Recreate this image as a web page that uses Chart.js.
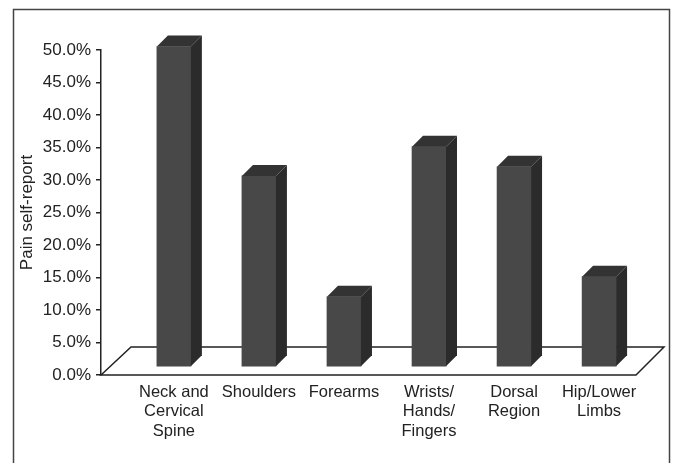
<!DOCTYPE html>
<html>
<head>
<meta charset="utf-8">
<script src="https://cdn.jsdelivr.net/npm/chart.js@4"></script>
<style>
  html, body { margin: 0; padding: 0; background: #ffffff; }
  #wrap { width: 673px; height: 463px; position: relative; }
</style>
</head>
<body>
<div id="wrap"><canvas id="chart" width="673" height="463"></canvas></div>
<script>
// Body regions and share of respondents reporting pain there
const categories = [
  ['Neck and', 'Cervical', 'Spine'],
  ['Shoulders'],
  ['Forearms'],
  ['Wrists/', 'Hands/', 'Fingers'],
  ['Dorsal', 'Region'],
  ['Hip/Lower', 'Limbs']
];
const painShare = [49.3, 29.4, 10.8, 33.9, 30.8, 13.9];
const yTickMax = 50;
const yTickStep = 5;

// Look of the pseudo-3D columns
const FRONT = '#484848';
const SIDE = '#2b2b2b';
const TOP = '#333333';
const DEPTH_X = 11;      // column depth, horizontal part
const DEPTH_Y = 11;      // column depth, vertical part
const PLANE_LIFT = 8;    // columns stand a little behind the front edge of the floor
const FLOOR_DY = 28;     // floor depth
const FLOOR_DX_L = 30;
const FLOOR_DX_R = 28;
const INK = '#222222';

const threeD = {
  id: 'threeD',
  beforeDraw(chart) {
    const ctx = chart.ctx;
    ctx.save();
    ctx.strokeStyle = '#444444';
    ctx.lineWidth = 1.5;
    ctx.strokeRect(13.5, 9.5, 656, 480);
    ctx.restore();
  },
  beforeDatasetsDraw(chart) {
    const ctx = chart.ctx;
    const a = chart.chartArea;
    // floor parallelogram
    ctx.save();
    ctx.strokeStyle = INK;
    ctx.lineWidth = 1.5;
    ctx.lineJoin = 'miter';
    ctx.beginPath();
    ctx.moveTo(a.left, a.bottom);
    ctx.lineTo(a.left + FLOOR_DX_L, a.bottom - FLOOR_DY);
    ctx.lineTo(a.right + FLOOR_DX_R, a.bottom - FLOOR_DY);
    ctx.lineTo(a.right, a.bottom);
    ctx.closePath();
    ctx.stroke();
    ctx.restore();
    // columns are drawn in the plane slightly behind the floor edge
    ctx.save();
    ctx.translate(0, -PLANE_LIFT);
  },
  afterDatasetsDraw(chart) {
    const ctx = chart.ctx;
    const meta = chart.getDatasetMeta(0);
    meta.data.forEach(bar => {
      const p = bar.getProps(['x', 'y', 'base', 'width'], true);
      const l = p.x - p.width / 2;
      const r = p.x + p.width / 2;
      // side face
      ctx.fillStyle = SIDE;
      ctx.beginPath();
      ctx.moveTo(r, p.y);
      ctx.lineTo(r + DEPTH_X, p.y - DEPTH_Y);
      ctx.lineTo(r + DEPTH_X, p.base - DEPTH_Y);
      ctx.lineTo(r, p.base);
      ctx.closePath();
      ctx.fill();
      // top face
      ctx.fillStyle = TOP;
      ctx.beginPath();
      ctx.moveTo(l, p.y);
      ctx.lineTo(l + DEPTH_X, p.y - DEPTH_Y);
      ctx.lineTo(r + DEPTH_X, p.y - DEPTH_Y);
      ctx.lineTo(r, p.y);
      ctx.closePath();
      ctx.fill();
    });
    ctx.restore();
  }
};

const firstCenterOffset = 0.857;   // room between the value axis and the first column
const xMin = -firstCenterOffset;
const xMax = categories.length - 1 + 0.434;

new Chart(document.getElementById('chart'), {
  type: 'bar',
  data: {
    datasets: [{
      data: painShare.map((v, i) => ({ x: i, y: v })),
      backgroundColor: FRONT,
      borderWidth: 0,
      barThickness: 34,
      clip: false
    }]
  },
  options: {
    responsive: false,
    animation: false,
    events: [],
    layout: { padding: { top: 50, right: 37, left: 0, bottom: 0 } },
    plugins: { legend: { display: false }, tooltip: { enabled: false } },
    scales: {
      x: {
        type: 'linear',
        offset: false,
        min: xMin,
        max: xMax,
        afterBuildTicks(scale) {
          scale.ticks = categories.map((c, i) => ({ value: i }));
        },
        afterFit(scale) {
          scale.height = 88;
          scale.paddingLeft = 0;
          scale.paddingRight = 0;
        },
        grid: { display: false, drawTicks: false, offset: false },
        border: { display: false },
        ticks: {
          autoSkip: false,
          maxRotation: 0,
          padding: 7,
          color: INK,
          font: { family: '"Liberation Sans", Arial, sans-serif', size: 16.5, lineHeight: 1.21 },
          callback: v => categories[v]
        }
      },
      y: {
        min: 0,
        max: yTickMax,
        afterFit(scale) {
          scale.width = 101;
        },
        grid: { drawOnChartArea: false, drawTicks: true, tickLength: 5, color: INK, lineWidth: 1.5 },
        border: { display: true, color: INK, width: 1.5 },
        ticks: {
          stepSize: yTickStep,
          padding: 5,
          color: INK,
          font: { family: '"Liberation Sans", Arial, sans-serif', size: 17 },
          callback: v => v.toFixed(1) + '%'
        },
        title: {
          display: true,
          text: 'Pain self-report',
          color: INK,
          padding: { top: 17, bottom: 0 },
          font: { family: '"Liberation Sans", Arial, sans-serif', size: 17, lineHeight: 1.2 }
        }
      }
    }
  },
  plugins: [threeD]
});
</script>
</body>
</html>
